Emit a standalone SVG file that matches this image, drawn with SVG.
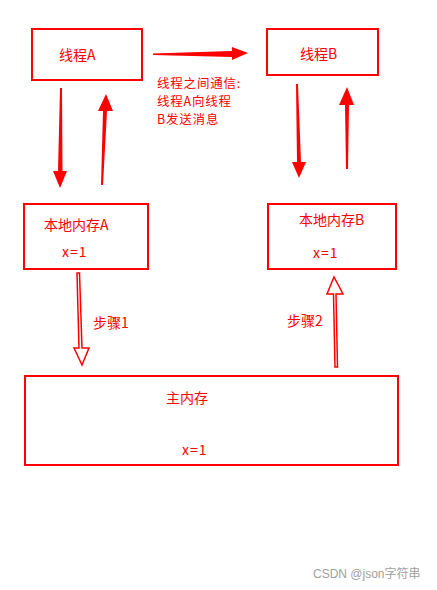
<svg xmlns="http://www.w3.org/2000/svg" width="437" height="590" viewBox="0 0 437 590">
<style>
.box{fill:#fff;stroke:#ff0000;stroke-width:2}
.t{font-family:"Microsoft YaHei","Noto Sans CJK SC",sans-serif;font-size:14px;fill:#ff0000}
.c{font-family:"Microsoft YaHei","Noto Sans CJK SC",sans-serif;font-size:12.5px;letter-spacing:0.8px;fill:#ff0000}
.x{letter-spacing:1px}
.solid{fill:#ff0000;stroke:none}
.hollow{fill:#fff;stroke:#ff0000;stroke-width:1.5;stroke-linejoin:miter}
.wm{font-family:"Liberation Sans","Noto Sans CJK SC",sans-serif;font-size:12px;fill:#a0a0a0}
</style>
<rect width="437" height="590" fill="#fff"/>
<g id="threadA"><rect class="box" x="32" y="29" width="110" height="51"/><text class="t" x="59" y="60">线程A</text></g>
<g id="threadB"><rect class="box" x="267" y="29" width="111" height="46"/><text class="t" x="300" y="59">线程B</text></g>
<g id="localA"><rect class="box" x="24" y="204" width="124" height="65"/><text class="t" x="44" y="230">本地内存A</text><text class="t x" x="62" y="257">x=1</text></g>
<g id="localB"><rect class="box" x="268" y="204" width="128" height="65"/><text class="t" x="299" y="225">本地内存B</text><text class="t x" x="313" y="258">x=1</text></g>
<g id="main"><rect class="box" x="25" y="376" width="373" height="89"/><text class="t" x="166" y="403">主内存</text><text class="t x" x="182" y="455">x=1</text></g>
<g id="connectors">
<path class="solid" d="M153,53.5 L153,55 L232,57 L232,60 L248,53 L232,47 L232,51 Z"/>
<path class="solid" d="M60,88 L62,88 L62.5,171 L67,171 L60,188 L53,171 L58,171 Z"/>
<path class="solid" d="M101,185 L103,185 L107,111 L113,111 L106,94 L98,111 L103,111 Z"/>
<path class="solid" d="M296,84 L298,84 L301,162 L306,162 L299,178 L292,162 L297,162 Z"/>
<path class="solid" d="M346,169 L348,169 L349,105 L354,105 L347,87 L339,105 L345,105 Z"/>
<path class="hollow" d="M77,273 L79.5,273 L82,348 L89,348 L82,365 L74,348 L79,348 Z"/>
<path class="hollow" d="M335,367 L337.5,367 L336,294 L343,294 L334,277 L327,294 L333.5,294 Z"/>
</g>
<g id="labels">
<text class="c" x="157" y="88">线程之间通信:</text>
<text class="c" x="157" y="106">线程A向线程</text>
<text class="c" x="157" y="124">B发送消息</text>
<text class="t" x="93" y="328">步骤1</text>
<text class="t" x="287" y="326">步骤2</text>
</g>
<text class="wm" x="313" y="578">CSDN @json字符串</text>
</svg>
